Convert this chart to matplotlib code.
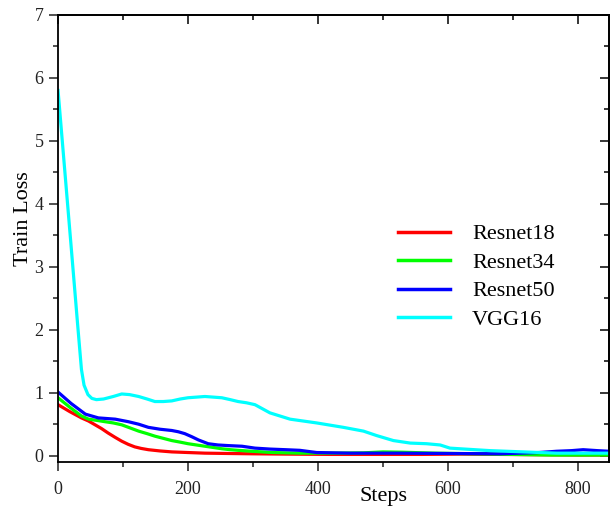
import matplotlib
matplotlib.use("Agg")
import matplotlib.pyplot as plt
from matplotlib.ticker import MultipleLocator

plt.rcParams['font.family'] = ['Liberation Serif', 'DejaVu Serif']

steps_vgg = [0, 10, 20, 30, 36, 40, 46, 52, 59, 70, 85, 98, 110, 124, 137, 149, 162, 175,
             188, 200, 213, 226, 239, 252, 265, 277, 290, 303, 326, 357, 398, 439, 470, 490,
             516, 542, 567, 588, 603, 618, 665, 716, 767, 810, 848]
vgg16 = [5.8, 4.57, 3.34, 2.1, 1.37, 1.12, 0.97, 0.91, 0.89, 0.9, 0.94, 0.98, 0.97, 0.94,
         0.9, 0.86, 0.86, 0.87, 0.9, 0.92, 0.93, 0.94, 0.93, 0.92, 0.89, 0.86, 0.84, 0.81,
         0.68, 0.58, 0.52, 0.45, 0.39, 0.32, 0.24, 0.2, 0.19, 0.17, 0.12, 0.11, 0.08, 0.06,
         0.04, 0.04, 0.04]

steps_r = [0, 18, 36, 47, 57, 67, 77, 88, 98, 108, 118, 128, 139, 157, 175, 200, 226, 260,
           298, 350, 420, 500, 560, 620, 680, 740, 800, 848]
resnet18 = [0.81, 0.7, 0.6, 0.55, 0.49, 0.43, 0.36, 0.29, 0.23, 0.18, 0.14, 0.115, 0.095,
            0.075, 0.06, 0.05, 0.04, 0.035, 0.03, 0.025, 0.02, 0.02, 0.02, 0.025, 0.02,
            0.015, 0.01, 0.01]

steps_g = [0, 18, 36, 47, 60, 72, 85, 98, 111, 124, 137, 149, 162, 175, 188, 200, 213, 226,
           239, 252, 265, 277, 298, 330, 372, 420, 470, 500, 530, 580, 640, 700, 760, 848]
resnet34 = [0.92, 0.77, 0.63, 0.58, 0.56, 0.54, 0.52, 0.49, 0.44, 0.39, 0.35, 0.31, 0.275,
            0.24, 0.215, 0.19, 0.17, 0.15, 0.13, 0.11, 0.095, 0.085, 0.07, 0.05, 0.04, 0.04,
            0.045, 0.06, 0.055, 0.04, 0.03, 0.02, 0.01, 0.01]

steps_b = [0, 20, 42, 62, 75, 88, 98, 108, 124, 139, 157, 175, 185, 195, 206, 216, 231, 246,
           262, 283, 303, 326, 350, 372, 398, 450, 520, 600, 680, 740, 767, 790, 808, 830, 848]
resnet50 = [1.01, 0.83, 0.66, 0.6, 0.59, 0.58, 0.56, 0.54, 0.5, 0.45, 0.42, 0.4, 0.38,
            0.35, 0.3, 0.25, 0.19, 0.17, 0.16, 0.15, 0.12, 0.105, 0.095, 0.085, 0.05, 0.04,
            0.04, 0.035, 0.03, 0.05, 0.07, 0.08, 0.095, 0.08, 0.07]

labels = ['Resnet18', 'Resnet34', 'Resnet50', 'VGG16']
colors = ['#ff0000', '#00ff00', '#0000ff', '#00ffff']

fig = plt.figure(figsize=(6.11, 5.08), dpi=100)
ax = fig.add_axes([0.095, 0.0906, 0.902, 0.88])

lw = 2.3
ax.plot(steps_r, resnet18, color=colors[0], lw=lw, label=labels[0])
ax.plot(steps_g, resnet34, color=colors[1], lw=lw, label=labels[1])
ax.plot(steps_b, resnet50, color=colors[2], lw=lw, label=labels[2])
ax.plot(steps_vgg, vgg16, color=colors[3], lw=lw, label=labels[3])

ax.set_xlim(0, 848)
ax.set_ylim(-0.1, 7)
ax.xaxis.set_major_locator(MultipleLocator(200))
ax.xaxis.set_minor_locator(MultipleLocator(100))
ax.yaxis.set_major_locator(MultipleLocator(1))
ax.yaxis.set_minor_locator(MultipleLocator(0.5))

for s in ax.spines.values():
    s.set_linewidth(1.3)

ax.tick_params(which='major', direction='out', length=6.5, width=1.1, labelsize=13,
               colors='#222222', pad=4)
ax.tick_params(which='minor', direction='out', length=3.6, width=1.1, colors='#222222')
ax.tick_params(axis='x', which='major', pad=7)

top = ax.secondary_xaxis('top')
top.xaxis.set_major_locator(MultipleLocator(200))
top.xaxis.set_minor_locator(MultipleLocator(100))
top.tick_params(which='major', direction='in', length=6.5, width=1.1, labeltop=False)
top.tick_params(which='minor', direction='in', length=3.6, width=1.1)
top.spines['top'].set_linewidth(1.3)

right = ax.secondary_yaxis('right')
right.yaxis.set_major_locator(MultipleLocator(1))
right.yaxis.set_minor_locator(MultipleLocator(0.5))
right.tick_params(which='major', direction='in', length=6.5, width=1.1, labelright=False)
right.tick_params(which='minor', direction='in', length=3.6, width=1.1)
right.spines['right'].set_linewidth(1.3)

ax.set_xlabel('Steps', fontsize=16)
ax.xaxis.set_label_coords(0.59, -0.057)
ax.set_ylabel('Train Loss', fontsize=16)
ax.yaxis.set_label_coords(-0.045, 0.545)

leg = fig.legend(loc='center left', bbox_to_anchor=(0.651, 0.455), frameon=False,
                 fontsize=16, handlelength=2.35, handletextpad=1.0, labelspacing=0.36,
                 borderpad=0, borderaxespad=0)
for line in leg.get_lines():
    line.set_linewidth(2.5)

fig.savefig('out.png', dpi=100)
